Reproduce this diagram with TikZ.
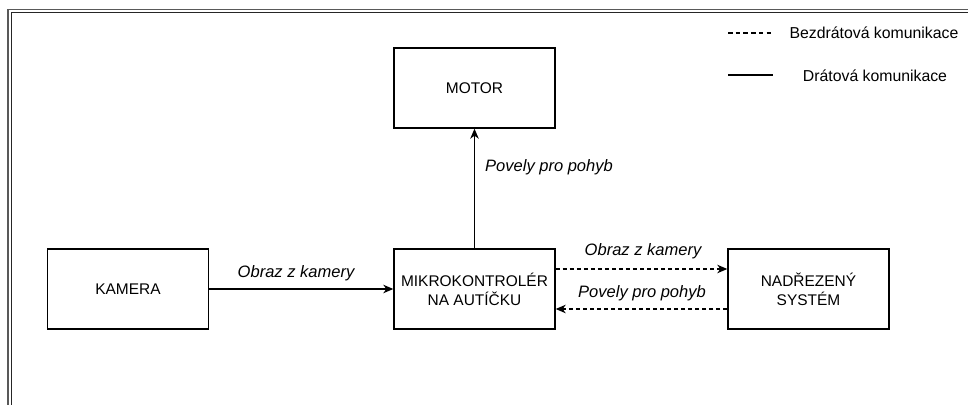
\documentclass[tikz,border=0pt]{standalone}
\usepackage{fontspec}
\setmainfont{Liberation Sans}
\usetikzlibrary{arrows.meta}
\usetikzlibrary{positioning}

\begin{document}
\begin{tikzpicture}[x=0.02cm, y=-0.02cm,
every node/.style = {align=center, inner sep=0pt},
block/.style = {shape=rectangle, draw, line width=0.8pt,
  minimum width=3.22cm, minimum height=1.6cm,
  font=\fontsize{8.8}{10.8}\selectfont},
flow/.style = {line width=0.8pt, -{Stealth[length=2mm, width=1.7mm, inset=0.6mm]}},
radio/.style = {flow, dash pattern=on 2.2pt off 1.8pt},
msg/.style = {font=\fontsize{9.4}{11}\selectfont\itshape},
legend/.style = {font=\fontsize{9}{11}\selectfont}
]
\useasboundingbox (0,0) rectangle (968,405);

% page frame
\draw[line width=0.7pt, gray!70!black] (8,405) -- (8,9.5) -- (968,9.5);
\draw[line width=0.7pt, black!85] (11.5,405) -- (11.5,12.5) -- (968,12.5);

% blocks
\node (motor) [block] at (474.5,88) {MOTOR};
\node (kamera) [block] at (128,289) {KAMERA};
\node (mcu) [block] at (474.5,289) {MIKROKONTROLÉR\\NA AUTÍČKU};
\node (nadr) [block] at (808.5,289) {NADŘEZENÝ\\SYSTÉM};

% connections
\draw[flow] (kamera) -- (mcu);
\draw[flow] (mcu) -- (motor);
\draw[radio] ([yshift=0.4cm]mcu.east) -- ([yshift=0.4cm]nadr.west);
\draw[radio] ([yshift=-0.4cm]nadr.west) -- ([yshift=-0.4cm]mcu.east);

\node (m1) [msg] at (296,273) {Obraz z kamery};
\node (m2) [msg] at (549,167) {Povely pro pohyb};
\node (m3) [msg] at (643,251) {Obraz z kamery};
\node (m4) [msg] at (642,293) {Povely pro pohyb};

% legend
\draw[line width=0.8pt, dash pattern=on 2.6pt off 1.8pt] (728,33) -- (773,33);
\node (wireless) [legend] at (874,33) {Bezdrátová komunikace};
\draw[line width=0.8pt] (728,75) -- (773,75);
\node (wired) [legend] at (875,76) {Drátová komunikace};

\end{tikzpicture}
\end{document}
